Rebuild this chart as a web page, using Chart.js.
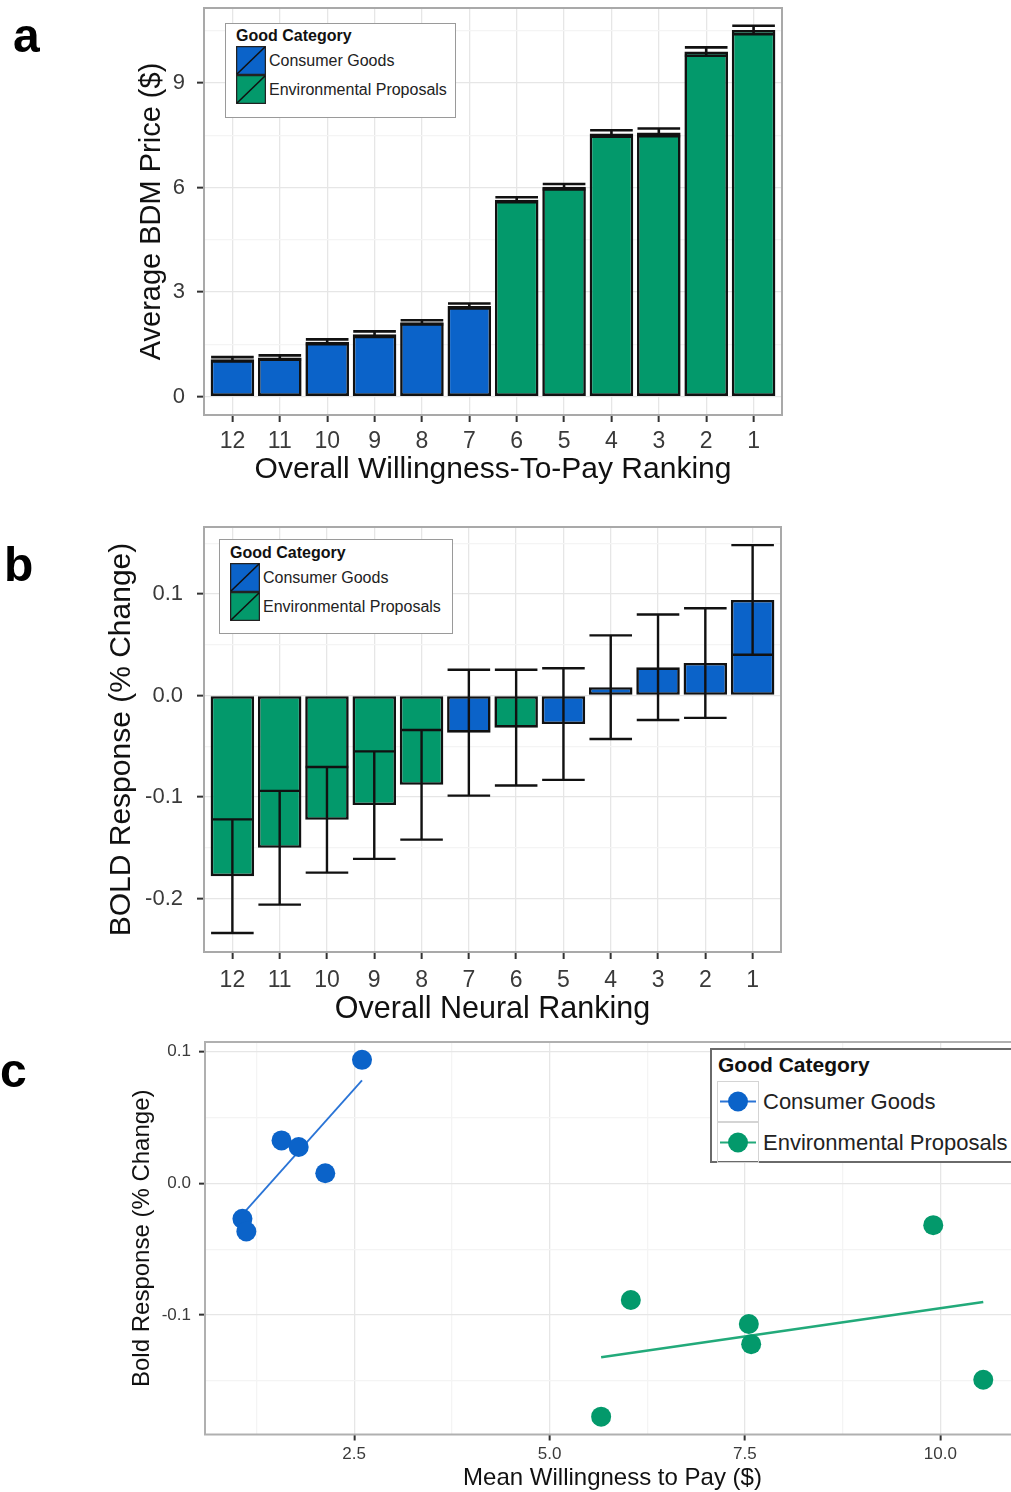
<!DOCTYPE html>
<html>
<head>
<meta charset="utf-8">
<script src="https://cdn.jsdelivr.net/npm/chart.js@4.4.1/dist/chart.umd.min.js"></script>
<style>
  html, body { margin: 0; padding: 0; background: #fff; overflow: hidden; }
  #page { position: relative; width: 1011px; height: 1492px; overflow: hidden; font-family: "Liberation Sans", Arial, Helvetica, sans-serif; }
  canvas { position: absolute; left: 0; }
  .plabel { position: absolute; font-weight: bold; font-size: 48px; line-height: 1; color: #000; }
  .lgbox { position: absolute; background: #fff; box-sizing: border-box; }
  .lgtitle { position: absolute; font-weight: bold; color: #111; white-space: nowrap; line-height: 1; }
  .lgtext { position: absolute; color: #222; white-space: nowrap; line-height: 1; }
  .lgkey { position: absolute; box-sizing: border-box; }
</style>
</head>
<body>
<div id="page">
  <canvas id="ca" width="800" height="490" style="top:0"></canvas>
  <canvas id="cb" width="800" height="530" style="top:500px"></canvas>
  <canvas id="cc" width="1030" height="462" style="top:1030px"></canvas>
  <div class="plabel" style="left:13px; top:12px">a</div>
  <div class="plabel" style="left:4px; top:541px">b</div>
  <div class="plabel" style="left:0px; top:1047px">c</div>
  <div id="legends"></div>
</div>
<script>
// ---------------- DATA ----------------
const rankLabels = ['12', '11', '10', '9', '8', '7', '6', '5', '4', '3', '2', '1'];

// Panel a: average BDM price by overall willingness-to-pay ranking
const wtpCategory = ['Consumer Goods', 'Consumer Goods', 'Consumer Goods', 'Consumer Goods', 'Consumer Goods', 'Consumer Goods',
  'Environmental Proposals', 'Environmental Proposals', 'Environmental Proposals', 'Environmental Proposals', 'Environmental Proposals', 'Environmental Proposals'];
const wtpMean = [1.07, 1.12, 1.57, 1.79, 2.13, 2.60, 5.65, 6.02, 7.55, 7.58, 9.90, 10.52];
const wtpSE = [0.06, 0.06, 0.07, 0.08, 0.06, 0.07, 0.07, 0.08, 0.09, 0.11, 0.12, 0.12];

// Panel b: BOLD response by overall neural ranking
const neuralCategory = ['Environmental Proposals', 'Environmental Proposals', 'Environmental Proposals', 'Environmental Proposals', 'Environmental Proposals',
  'Consumer Goods', 'Environmental Proposals', 'Consumer Goods', 'Consumer Goods', 'Consumer Goods', 'Consumer Goods', 'Consumer Goods'];
const neuralMean = [-0.178, -0.150, -0.1225, -0.108, -0.088, -0.0366, -0.0317, -0.0281, 0.0082, 0.0278, 0.032, 0.0941];
const neuralSE = [0.056, 0.056, 0.052, 0.053, 0.054, 0.062, 0.057, 0.055, 0.051, 0.052, 0.054, 0.054];

// Panel c: scatter of mean WTP vs bold response
const consumerWTP = [2.60, 1.57, 1.79, 2.13, 1.07, 1.12];
const consumerBold = [0.0936, 0.0325, 0.0275, 0.0076, -0.027, -0.0366];
const envWTP = [9.91, 6.04, 7.55, 7.58, 10.55, 5.66];
const envBold = [-0.0318, -0.0885, -0.1067, -0.122, -0.149, -0.177];
// fitted lines (end points)
const consumerFitX = [1.065, 2.60];
const consumerFitY = [-0.024, 0.078];
const envFitX = [5.66, 10.55];
const envFitY = [-0.132, -0.090];

const categoryNames = ['Consumer Goods', 'Environmental Proposals'];
const legendTitle = 'Good Category';

// tick values
const aYTicks = [0, 1.5, 3, 4.5, 6, 7.5, 9, 10.5];
const bYTicks = [-0.2, -0.15, -0.1, -0.05, 0, 0.05, 0.1, 0.15];
const cXTicks = [1.25, 2.5, 3.75, 5, 6.25, 7.5, 8.75, 10];
const cYTicks = [-0.15, -0.1, -0.05, 0, 0.05, 0.1];

// ---------------- STYLE ----------------
const FONT = '"Liberation Sans", Arial, Helvetica, sans-serif';
const COLORS = { 'Consumer Goods': '#0b63c9', 'Environmental Proposals': '#03996b' };
const LINECOLORS = { 'Consumer Goods': '#2a74d6', 'Environmental Proposals': '#22aa7a' };
const GRID_MAJOR = '#e6e6e6';
const GRID_MINOR = '#f4f4f4';
const TICK_DARK = '#333333';
const TICK_TEXT = '#3a3a3a';

function isMultiple(v, step) { const r = v / step; return Math.abs(r - Math.round(r)) < 1e-6; }

const errorBars = {
  id: 'errorBars',
  afterDatasetsDraw(chart, args, opts) {
    if (!opts || !opts.centers) return;
    const ctx = chart.ctx, x = chart.scales.x, y = chart.scales.y;
    ctx.save();
    ctx.strokeStyle = opts.color || '#111';
    ctx.lineWidth = opts.lineWidth || 2;
    for (let i = 0; i < opts.centers.length; i++) {
      const c = opts.centers[i];
      const px = x.getPixelForValue(c);
      const hw = Math.abs(x.getPixelForValue(c + opts.halfWidth) - px);
      const pl = y.getPixelForValue(opts.low[i]);
      const ph = y.getPixelForValue(opts.high[i]);
      ctx.beginPath();
      ctx.moveTo(px, pl); ctx.lineTo(px, ph);
      ctx.moveTo(px - hw, pl); ctx.lineTo(px + hw, pl);
      ctx.moveTo(px - hw, ph); ctx.lineTo(px + hw, ph);
      ctx.stroke();
    }
    ctx.restore();
  }
};
const panelBorder = {
  id: 'panelBorder',
  afterDraw(chart, args, opts) {
    const a = chart.chartArea, ctx = chart.ctx;
    ctx.save();
    ctx.strokeStyle = (opts && opts.color) || '#a9a9a9';
    ctx.lineWidth = (opts && opts.width) || 2;
    ctx.strokeRect(a.left, a.top, a.right - a.left, a.bottom - a.top);
    ctx.restore();
  }
};
Chart.register(errorBars, panelBorder);

function fixSizeY(w) { return s => { s.width = w; s.paddingTop = 0; s.paddingBottom = 0; }; }
function fixSizeX(h) { return s => { s.height = h; s.paddingLeft = 0; s.paddingRight = 0; }; }

function rankXScale(opts) {
  return {
    type: 'linear', min: 0.4, max: rankLabels.length + 0.6, offset: false,
    afterBuildTicks: s => { s.ticks = rankLabels.map((l, i) => ({ value: i + 1 })); },
    afterFit: fixSizeX(opts.height),
    border: { display: false },
    grid: { offset: false, color: GRID_MAJOR, lineWidth: 1.3, tickColor: TICK_DARK, tickLength: 7, tickWidth: 2 },
    ticks: {
      autoSkip: false, maxRotation: 0, padding: opts.pad, color: TICK_TEXT,
      font: { family: FONT, size: 23 },
      callback: v => rankLabels[Math.round(v) - 1]
    },
    title: { display: true, text: opts.title, color: '#111', font: { family: FONT, size: opts.tsize, lineHeight: 1 }, padding: { top: 0, bottom: opts.tpad } }
  };
}

function gridByMajor(step) {
  return {
    color: c => isMultiple(c.tick.value, step) ? GRID_MAJOR : GRID_MINOR,
    tickColor: c => isMultiple(c.tick.value, step) ? TICK_DARK : 'rgba(0,0,0,0)',
    lineWidth: 1.3, tickLength: 7, tickWidth: 2
  };
}

// ---------------- PANEL A ----------------
new Chart(document.getElementById('ca'), {
  type: 'bar',
  data: {
    datasets: [{
      data: wtpMean.map((v, i) => ({ x: i + 1, y: v })),
      backgroundColor: wtpCategory.map(c => COLORS[c]),
      borderColor: '#111', borderWidth: 2.6, borderSkipped: false,
      barPercentage: 0.92, categoryPercentage: 1
    }]
  },
  options: {
    responsive: false, animation: false, devicePixelRatio: 1,
    layout: { padding: { top: 8, right: 18, left: 0, bottom: 0 } },
    plugins: {
      legend: { display: false }, tooltip: { enabled: false },
      errorBars: {
        centers: wtpMean.map((v, i) => i + 1),
        low: wtpMean.map((v, i) => v - wtpSE[i]),
        high: wtpMean.map((v, i) => v + wtpSE[i]),
        halfWidth: 0.45, lineWidth: 2.6, color: '#111'
      }
    },
    scales: {
      x: rankXScale({ height: 75, pad: 6, title: 'Overall Willingness-To-Pay Ranking', tsize: 30, tpad: 5 }),
      y: {
        type: 'linear', min: -0.53, max: 11.15,
        afterBuildTicks: s => { s.ticks = aYTicks.map(v => ({ value: v })); },
        afterFit: fixSizeY(204),
        border: { display: false },
        grid: gridByMajor(3),
        ticks: { padding: 12, color: TICK_TEXT, font: { family: FONT, size: 22 },
          callback: v => isMultiple(v, 3) ? String(v) : '' },
        title: { display: true, text: 'Average BDM Price ($)', color: '#111', font: { family: FONT, size: 29, lineHeight: 1 }, padding: { top: 137, bottom: 0 } }
      }
    }
  }
});

// ---------------- PANEL B ----------------
new Chart(document.getElementById('cb'), {
  type: 'bar',
  data: {
    datasets: [{
      data: neuralMean.map((v, i) => ({ x: i + 1, y: v })),
      backgroundColor: neuralCategory.map(c => COLORS[c]),
      borderColor: '#111', borderWidth: 2.6, borderSkipped: false,
      barPercentage: 0.92, categoryPercentage: 1
    }]
  },
  options: {
    responsive: false, animation: false, devicePixelRatio: 1,
    layout: { padding: { top: 27, right: 19, left: 0, bottom: 0 } },
    plugins: {
      legend: { display: false }, tooltip: { enabled: false },
      errorBars: {
        centers: neuralMean.map((v, i) => i + 1),
        low: neuralMean.map((v, i) => v - neuralSE[i]),
        high: neuralMean.map((v, i) => v + neuralSE[i]),
        halfWidth: 0.45, lineWidth: 2.4, color: '#111'
      }
    },
    scales: {
      x: rankXScale({ height: 78, pad: 8, title: 'Overall Neural Ranking', tsize: 30.5, tpad: 5 }),
      y: {
        type: 'linear', min: -0.2527, max: 0.166,
        afterBuildTicks: s => { s.ticks = bYTicks.map(v => ({ value: v })); },
        afterFit: fixSizeY(204),
        border: { display: false },
        grid: gridByMajor(0.1),
        ticks: { padding: 14, color: TICK_TEXT, font: { family: FONT, size: 22 },
          callback: v => isMultiple(v, 0.1) ? (Math.abs(v) < 1e-9 ? '0.0' : v.toFixed(1)) : '' },
        title: { display: true, text: 'BOLD Response (% Change)', color: '#111', font: { family: FONT, size: 30, lineHeight: 1 }, padding: { top: 107, bottom: 0 } }
      }
    }
  }
});

// ---------------- PANEL C ----------------
new Chart(document.getElementById('cc'), {
  type: 'scatter',
  data: {
    datasets: [
      { label: categoryNames[0], data: consumerWTP.map((x, i) => ({ x, y: consumerBold[i] })),
        backgroundColor: COLORS[categoryNames[0]], borderWidth: 0, pointRadius: 10, order: 1 },
      { label: categoryNames[1], data: envWTP.map((x, i) => ({ x, y: envBold[i] })),
        backgroundColor: COLORS[categoryNames[1]], borderWidth: 0, pointRadius: 10, order: 1 },
      { type: 'line', label: categoryNames[0] + ' fit', data: consumerFitX.map((x, i) => ({ x, y: consumerFitY[i] })),
        borderColor: LINECOLORS[categoryNames[0]], borderWidth: 1.8, pointRadius: 0, showLine: true, fill: false, order: 2 },
      { type: 'line', label: categoryNames[1] + ' fit', data: envFitX.map((x, i) => ({ x, y: envFitY[i] })),
        borderColor: LINECOLORS[categoryNames[1]], borderWidth: 2.5, pointRadius: 0, showLine: true, fill: false, order: 2 }
    ]
  },
  options: {
    responsive: false, animation: false, devicePixelRatio: 1,
    layout: { padding: { top: 12, right: 9, left: 0, bottom: 0 } },
    plugins: { legend: { display: false }, tooltip: { enabled: false }, panelBorder: { color: '#b0b0b0', width: 2 } },
    scales: {
      x: {
        type: 'linear', min: 0.591, max: 11.02,
        afterBuildTicks: s => { s.ticks = cXTicks.map(v => ({ value: v })); },
        afterFit: fixSizeX(57.5),
        border: { display: false },
        grid: Object.assign(gridByMajor(2.5), { tickLength: 6 }),
        ticks: { padding: 4, color: TICK_TEXT, font: { family: FONT, size: 17 }, maxRotation: 0, autoSkip: false,
          callback: v => isMultiple(v, 2.5) ? v.toFixed(1) : '' },
        title: { display: true, text: 'Mean Willingness to Pay ($)', color: '#111', font: { family: FONT, size: 24, lineHeight: 1 }, padding: { top: 0, bottom: 2 } }
      },
      y: {
        type: 'linear', min: -0.1905, max: 0.1071,
        afterBuildTicks: s => { s.ticks = cYTicks.map(v => ({ value: v })); },
        afterFit: fixSizeY(205),
        border: { display: false },
        grid: Object.assign(gridByMajor(0.1), { tickLength: 6 }),
        ticks: { padding: 8, color: TICK_TEXT, font: { family: FONT, size: 17 },
          callback: v => isMultiple(v, 0.1) ? (Math.abs(v) < 1e-9 ? '0.0' : v.toFixed(1)) : '' },
        title: { display: true, text: 'Bold Response (% Change)', color: '#111', font: { family: FONT, size: 24, lineHeight: 1 }, padding: { top: 130, bottom: 0 } }
      }
    }
  }
});

// ---------------- LEGENDS (HTML) ----------------
const lg = document.getElementById('legends');
function el(cls, style, html) { const d = document.createElement('div'); d.className = cls; Object.assign(d.style, style); if (html !== undefined) d.innerHTML = html; lg.appendChild(d); return d; }
function barKey(color) {
  return '<svg width="30" height="29" style="display:block"><rect x="0.5" y="0.5" width="29" height="28" fill="' + color + '" stroke="#222" stroke-width="1.5"/><line x1="1" y1="28" x2="29" y2="1" stroke="#111" stroke-width="1.6"/></svg>';
}
function barLegend(box, x0, y0) {
  el('lgbox', { left: box[0] + 'px', top: box[1] + 'px', width: box[2] + 'px', height: box[3] + 'px', border: '1.5px solid #9a9a9a' });
  el('lgtitle', { left: x0 + 'px', top: (y0) + 'px', fontSize: '16px' }, legendTitle);
  categoryNames.forEach((n, i) => {
    el('lgkey', { left: x0 + 'px', top: (y0 + 18 + i * 29) + 'px', width: '30px', height: '29px' }, barKey(COLORS[n]));
    el('lgtext', { left: (x0 + 33) + 'px', top: (y0 + 25 + i * 29) + 'px', fontSize: '16px' }, n);
  });
}
barLegend([225, 23, 231, 95], 236, 28);
barLegend([219, 539, 234, 95], 230, 545);

// panel c legend
el('lgbox', { left: '710px', top: '1048px', width: '330px', height: '115px', border: '2px solid #6a6a6a' });
el('lgtitle', { left: '718px', top: '1054px', fontSize: '21px' }, legendTitle);
categoryNames.forEach((n, i) => {
  const k = el('lgkey', { left: '717px', top: (1081 + i * 41) + 'px', width: '42px', height: '41px', border: '1px solid #d4d4d4' });
  k.innerHTML = '<svg width="40" height="39" style="display:block"><line x1="2" y1="19.5" x2="38" y2="19.5" stroke="' + LINECOLORS[n] + '" stroke-width="2"/><circle cx="20" cy="19.5" r="10" fill="' + COLORS[n] + '"/></svg>';
  el('lgtext', { left: '763px', top: (1091 + i * 41) + 'px', fontSize: '22px' }, n);
});
</script>
</body>
</html>
